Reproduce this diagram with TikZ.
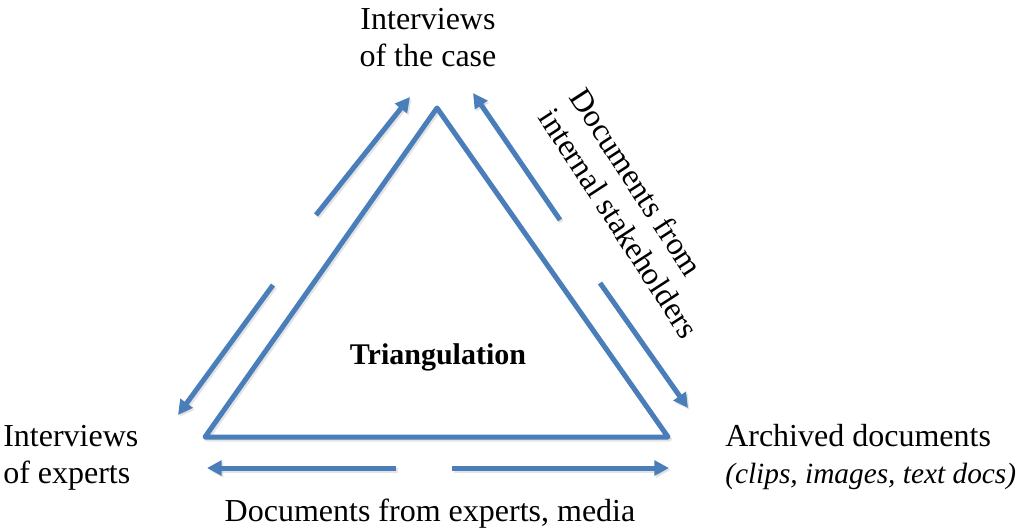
\documentclass[tikz,border=0pt]{standalone}
\usepackage{fontspec}
\setmainfont{Liberation Serif}
\usetikzlibrary{arrows.meta}
\definecolor{triblue}{HTML}{4A7EBB}
\begin{document}
\begin{tikzpicture}[x=0.75pt,y=-0.75pt,
  label text/.style={font=\fontsize{24}{27.75}\selectfont, inner sep=0pt},
  flow/.style={draw=triblue, line width=3.75pt,
    -{Triangle[length=11pt,width=11pt]},
    preaction={draw=black!30, opacity=0.35, line width=3.75pt,
      -{Triangle[length=11pt,width=11pt]},
      transform canvas={shift={(1.2pt,-1.5pt)}}}},
  frame/.style={draw=triblue, line width=3.75pt, line join=round,
    preaction={draw=black!30, opacity=0.35, line width=3.75pt, line join=round,
      transform canvas={shift={(1.2pt,-1.5pt)}}}}]
\useasboundingbox (0,0) rectangle (1016,530);

% triangle corners
\coordinate (apex) at (437,108);
\coordinate (bl) at (205,437);
\coordinate (br) at (668,437);
\draw[frame] (apex) -- (br) -- (bl) -- cycle;

\node[font=\bfseries\fontsize{22.5}{26}\selectfont] (tri) at (438,357) {Triangulation};

% arrow end points
\coordinate (l1s) at (316,215); \coordinate (l1e) at (410,97);
\coordinate (l2s) at (273,285); \coordinate (l2e) at (178,415);
\coordinate (r1s) at (560,220); \coordinate (r1e) at (473,93);
\coordinate (r2s) at (600,283); \coordinate (r2e) at (688,408);
\coordinate (b1s) at (396,468); \coordinate (b1e) at (207,468);
\coordinate (b2s) at (452,468); \coordinate (b2e) at (669,468);

\draw[flow] (l1s) -- (l1e);
\draw[flow] (l2s) -- (l2e);
\draw[flow] (r1s) -- (r1e);
\draw[flow] (r2s) -- (r2e);
\draw[flow] (b1s) -- (b1e);
\draw[flow] (b2s) -- (b2e);

% labels
\node[label text, align=center] (case) at (428,38) {Interviews\\of the case};
\node[label text, align=left, anchor=west] (experts) at (3,458) {Interviews\\of experts};
\node[label text, align=left, anchor=west] (archive) at (725,457)
  {Archived documents\\{\fontsize{22}{26}\selectfont\itshape (clips, images, text docs)}};
\node[label text] (media) at (430,514) {Documents from experts, media};
\node[label text, align=left, rotate=-57] (internal) at (635,213)
  {Documents from\\internal stakeholders};
\end{tikzpicture}
\end{document}
